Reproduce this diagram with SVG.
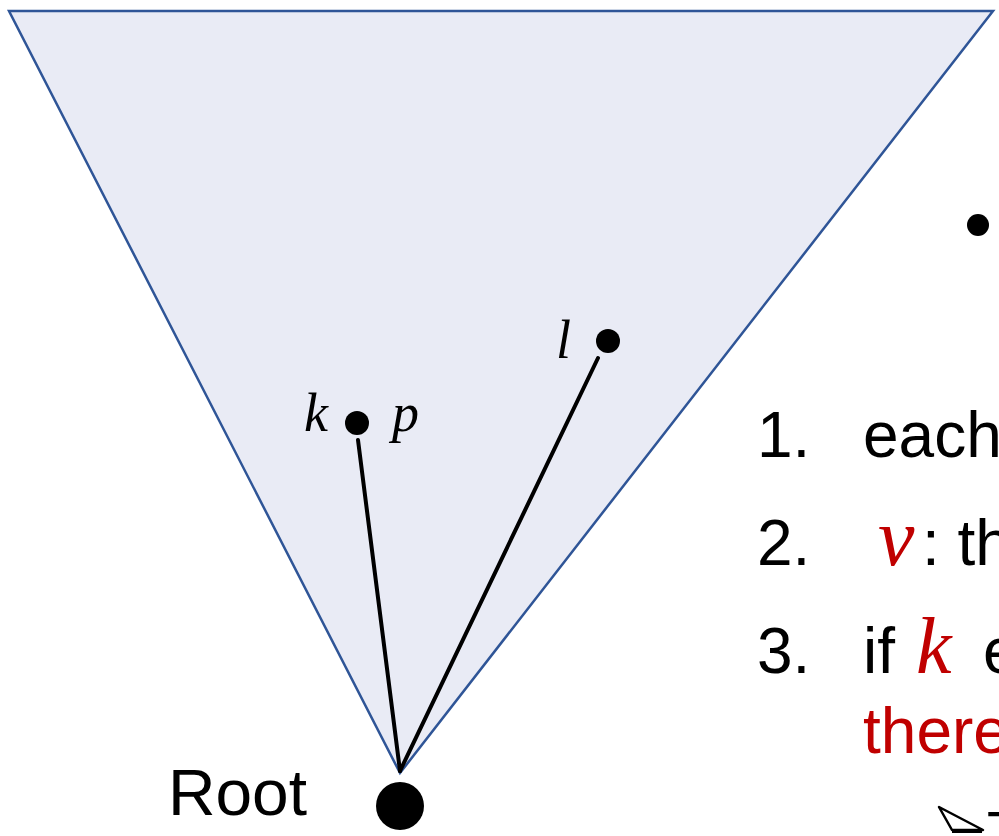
<svg xmlns="http://www.w3.org/2000/svg" width="999" height="836" viewBox="0 0 999 836">
<style>
.txt{font-family:"Liberation Sans",Arial,sans-serif;fill:#000;}
.math{font-family:"Liberation Serif","Times New Roman",serif;font-style:italic;}
.red{fill:#C00000;}
.edge{stroke:#000;stroke-width:4;fill:none;stroke-linecap:round;}
.dot{fill:#000;}
</style>
<rect width="999" height="836" fill="#fff"/>
<g id="tree">
<polygon points="9,11 993,11 400,773" fill="#E9EBF5" stroke="#2F5597" stroke-width="2.5"/>
</g>
<g id="connectors">
<line class="edge" x1="358" y1="440" x2="400" y2="771"/>
<line class="edge" x1="598" y1="358" x2="400" y2="771"/>
</g>
<g id="node-k">
<circle class="dot" cx="357" cy="423" r="12"/>
<text class="math" x="304" y="431" font-size="54">k</text>
<text class="math" x="392" y="431" font-size="54">p</text>
</g>
<g id="node-l">
<circle class="dot" cx="608" cy="341" r="12"/>
<text class="math" x="556" y="358" font-size="54">l</text>
</g>
<g id="node-root">
<circle class="dot" cx="400" cy="806" r="24"/>
<text class="txt" x="168" y="815" font-size="64" textLength="139" lengthAdjust="spacingAndGlyphs">Root</text>
</g>
<g id="text">
<circle class="dot" cx="978" cy="225" r="11"/>
<text class="txt" x="757" y="457" font-size="64">1.</text>
<text class="txt" x="863" y="457" font-size="64">each</text>
<text class="txt" x="757" y="565" font-size="64">2.</text>
<text class="math red" x="878" y="565" font-size="82">v</text>
<text class="txt" x="922" y="565" font-size="64">: th</text>
<text class="txt" x="757" y="673" font-size="64">3.</text>
<text class="txt" x="863" y="673" font-size="64">if</text>
<text class="math red" x="916" y="673" font-size="80">k</text>
<text class="txt" x="983" y="673" font-size="64">e</text>
<text class="txt red" x="863" y="753" font-size="64">there</text>
<polygon points="939,807 983,830 952,830" fill="none" stroke="#000" stroke-width="2.5" stroke-linejoin="round"/>
<line x1="952" y1="831" x2="982" y2="831" stroke="#000" stroke-width="4"/>
<text class="txt" x="987" y="850" font-size="56">T</text>
</g>
</svg>
